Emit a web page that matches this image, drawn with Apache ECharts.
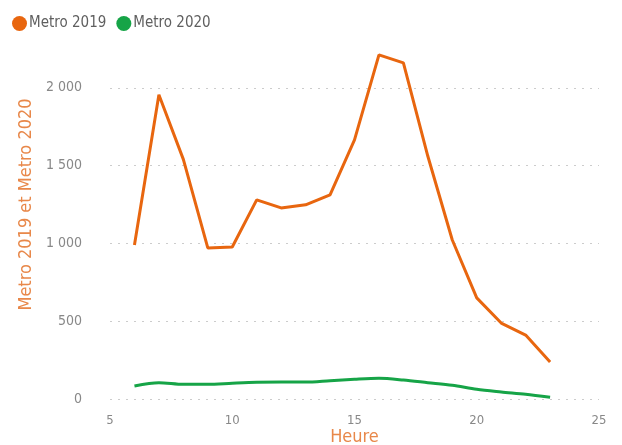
<!DOCTYPE html>
<html><head><meta charset="utf-8">
<script src="https://cdn.jsdelivr.net/npm/echarts@6/dist/echarts.min.js"></script>
<style>html,body{margin:0;padding:0;background:#fff}#c{width:622px;height:445px}</style>
</head><body><div id="c"></div>
<script>
const hours = [6,7,8,9,10,11,12,13,14,15,16,17,18,19,20,21,22,23];
const metro2019 = [990,1955,1540,971,977,1280,1228,1248,1312,1665,2212,2160,1560,1022,650,488,411,238];
const metro2020 = [84,105,94,94,101,107,109,109,118,127,133,122,105,88,62,45,30,11];
const seriesNames = ['Metro 2019','Metro 2020'];
const colors = ['#E8660F','#16A447'];
const FONT = '"DejaVu Sans Condensed",sans-serif';
const chart = echarts.init(document.getElementById('c'));
const fmt = v => String(v).replace(/\B(?=(\d{3})+(?!\d))/g, ' ');
chart.setOption({
  animation:false,
  textStyle:{fontFamily:FONT},
  legend:{left:7,top:11,itemWidth:15,itemHeight:15,itemGap:10,icon:'circle',
    textStyle:{color:'#5f5f5f',fontSize:15,fontFamily:FONT,padding:[0,0,0,-3]},
    data:seriesNames},
  grid:{left:110,right:23,top:10,bottom:46,outerBoundsMode:'none',containLabel:false},
  xAxis:{type:'value',min:5,max:25,interval:5,
    name:'Heure',nameLocation:'middle',nameGap:29,nameMoveOverlap:false,
    nameTextStyle:{color:'#E8884A',fontSize:18,fontFamily:FONT},
    axisLine:{show:false},axisTick:{show:false},splitLine:{show:false},
    axisLabel:{color:'#888',fontSize:13,margin:15,fontFamily:FONT}},
  yAxis:{type:'value',min:0,max:2500,interval:500,
    name:'Metro 2019 et Metro 2020',nameLocation:'middle',nameGap:74,nameRotate:90,
    nameTextStyle:{color:'#E8884A',fontSize:18,fontFamily:FONT},
    axisLine:{show:false},axisTick:{show:false},
    axisLabel:{color:'#888',fontSize:14,margin:28,showMaxLabel:false,formatter:fmt,fontFamily:FONT},
    splitLine:{show:true,showMaxLine:false,lineStyle:{type:[2,6],color:'#ccc',width:1}}},
  series:[
    {name:seriesNames[0],type:'line',data:hours.map((h,i)=>[h,metro2019[i]]),
     showSymbol:false,symbol:'circle',lineStyle:{width:3,color:colors[0]},itemStyle:{color:colors[0]}},
    {name:seriesNames[1],type:'line',data:hours.map((h,i)=>[h,metro2020[i]]),
     showSymbol:false,symbol:'circle',smooth:0.3,lineStyle:{width:3,color:colors[1]},itemStyle:{color:colors[1]}}
  ]
});
</script></body></html>
